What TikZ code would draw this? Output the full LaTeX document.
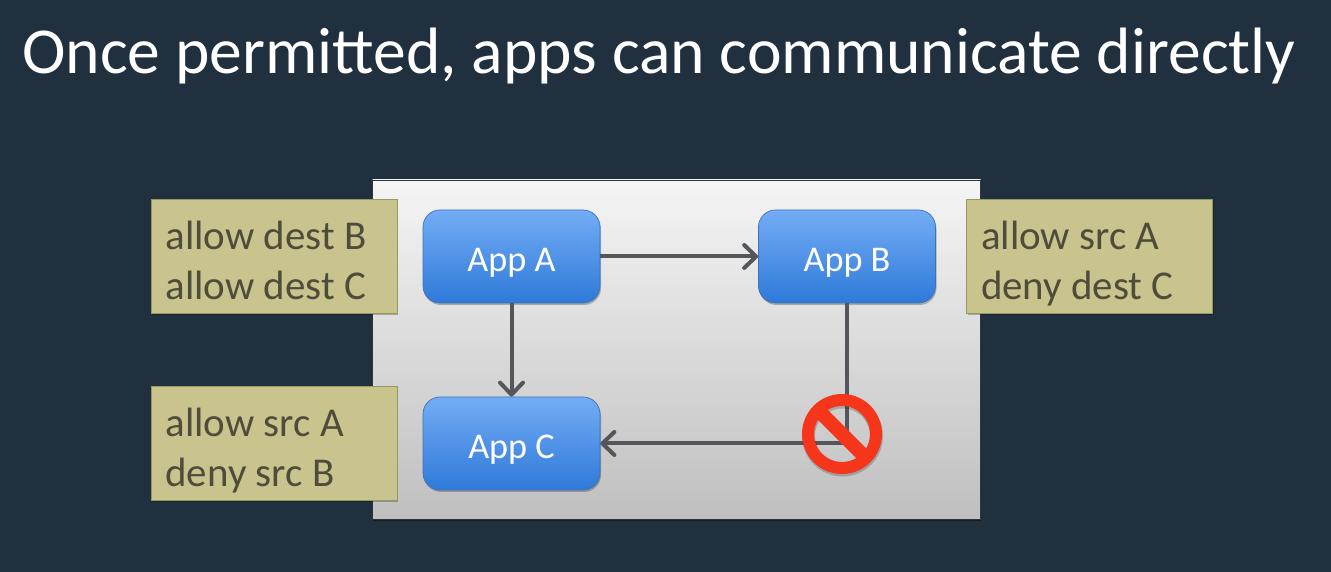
\documentclass[tikz,border=0pt]{standalone}
\usepackage{xcolor}
\usepackage{fontspec}
\setmainfont{Carlito}
\usetikzlibrary{shadows,arrows.meta}
\definecolor{slatecol}{HTML}{20303F}
\definecolor{tancol}{HTML}{C9C48D}
\definecolor{tanedge}{HTML}{94995E}
\definecolor{tantext}{HTML}{4F4C3B}
\definecolor{appedge}{HTML}{3D72B5}
\definecolor{apptop}{HTML}{74ACF5}
\definecolor{appbot}{HTML}{2E7AD9}
\definecolor{linkcol}{HTML}{55565B}
\definecolor{stopcol}{HTML}{F5361B}
\tikzset{
  appbox/.style={draw=appedge,rounded corners=0.34cm,top color=apptop,bottom color=appbot,
    minimum width=3.54cm,minimum height=1.86cm,text=white,font=\fontsize{20.6}{24}\selectfont,
    text height=0.62cm,text depth=0pt,
    drop shadow={shadow xshift=0.02cm,shadow yshift=-0.04cm,opacity=0.25,fill=black}},
  rulebox/.style={draw=tanedge,fill=tancol,text=tantext,minimum height=2.28cm,text width=4.34cm,
    inner xsep=0.29cm,align=flush left,font=\fontsize{23.3}{28.45}\selectfont,
    text height=0.56cm,text depth=0.84cm,
    drop shadow={shadow xshift=0.02cm,shadow yshift=-0.04cm,opacity=0.25,fill=black}},
  linkline/.style={draw=linkcol,line width=0.08cm,-{Straight Barb[length=0.24cm,width=0.46cm,round]}}
}

\begin{document}
\begin{tikzpicture}
  \fill[slatecol] (0,0) rectangle (26.62,11.44);
  \node[anchor=base west,inner sep=0,text=white,font=\fontsize{37.3}{44}\selectfont] (title) at (0.44,9.96) {Once permitted, apps can communicate directly};
  \node[draw=black!80,top color=gray!8,bottom color=gray!50,minimum width=12.16cm,minimum height=6.78cm,inner sep=0,
    drop shadow={shadow xshift=0cm,shadow yshift=-0.05cm,opacity=0.4,fill=black}] (panel) at (13.53,4.45) {};
  % rule cards
  \node[rulebox] (rulesA) at (5.48,6.31) {allow dest B\\allow dest C};
  \node[rulebox] (rulesB) at (21.79,6.31) {allow src A\\deny dest C};
  \node[rulebox] (rulesC) at (5.48,2.57) {allow src A\\deny src B};
  % apps
  \node[appbox] (appA) at (10.23,6.31) {App A};
  \node[appbox] (appB) at (16.94,6.31) {App B};
  \node[appbox] (appC) at (10.23,2.57) {App C};
  \draw[linkline] (appA) -- (appB);
  \draw[linkline] (appA) -- (appC);
  \draw[linkline] (appB) |- (appC);
  % blocked path
  \draw[black,opacity=0.2,line width=0.26cm] (16.85,2.72) circle (0.68);
  \node[circle,draw=stopcol,line width=0.24cm,minimum size=1.36cm,inner sep=0,outer sep=0] (stop) at (16.84,2.76) {};
  \draw[stopcol,line width=0.28cm] (stop.135) -- (stop.-45);
\end{tikzpicture}
\end{document}
